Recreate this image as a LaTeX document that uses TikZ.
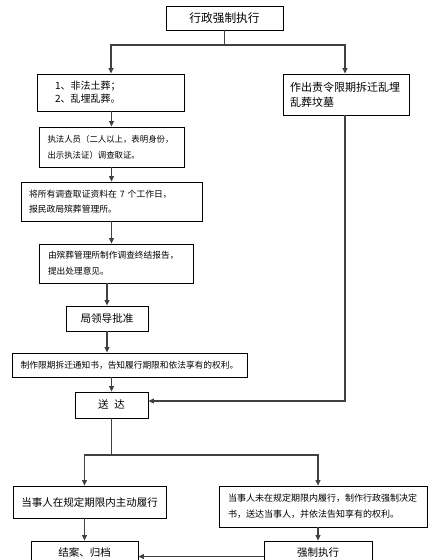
\documentclass[tikz,border=0pt]{standalone}
\usepackage{fontspec}
\setmainfont{Noto Sans CJK SC}
\usetikzlibrary{arrows.meta}
\begin{document}
\begin{tikzpicture}[x=1pt,y=-1pt,>={Triangle[length=5.5pt,width=5pt]},
  box/.style={draw,rectangle,line width=0.8pt,inner ysep=0pt},
  lbox/.style={box,align=left},
  link/.style={draw=black!75,line width=1.2pt}]
 \useasboundingbox (0,0) rectangle (445,560);
 % top
 \node[box,minimum width=117,minimum height=24,font=\fontsize{11.7}{14}\selectfont] (exec) at (224.5,18) {行政强制执行};
 \node[lbox,text width=111,inner xsep=18,minimum height=37,font=\fontsize{10}{13}\selectfont] (cases) at (110.5,92.5) {1、非法土葬；\\2、乱埋乱葬。};
 \node[lbox,text width=112,inner xsep=7,minimum height=41,font=\fontsize{11}{15}\selectfont] (order) at (346,94.5) {作出责令限期拆迁乱埋\\乱葬坟墓};
 % left column
 \node[lbox,text width=128,inner xsep=8.5,minimum height=40,font=\fontsize{8.4}{16}\selectfont] (probe) at (111.5,147) {执法人员（二人以上，表明身份，\\出示执法证）调查取证。};
 \node[lbox,text width=165,inner xsep=8,minimum height=39,font=\fontsize{8.8}{15}\selectfont] (report) at (111.5,201.5) {将所有调查取证资料在 7 个工作日，\\报民政局殡葬管理所。};
 \node[lbox,text width=136,inner xsep=9,minimum height=39,font=\fontsize{8.7}{16}\selectfont] (final) at (116,263.5) {由殡葬管理所制作调查终结报告，\\提出处理意见。};
 \node[box,minimum width=82,minimum height=25,font=\fontsize{10.6}{13}\selectfont] (approve) at (107,318.5) {局领导批准};
 \node[box,minimum width=235,minimum height=24,font=\fontsize{8.7}{11}\selectfont] (notice) at (129.5,365) {制作限期拆迁通知书，告知履行期限和依法享有的权利。};
 \node[box,minimum width=73,minimum height=26,font=\fontsize{10.5}{13}\selectfont] (serve) at (111.5,405) {送\hspace{6pt}达};
 % bottom
 \node[box,minimum width=153,minimum height=32,font=\fontsize{10.5}{13}\selectfont] (comply) at (89.5,502) {当事人在规定期限内主动履行};
 \node[lbox,text width=190,inner xsep=9,minimum height=41,font=\fontsize{9}{16}\selectfont] (decide) at (323,506.5) {当事人未在规定期限内履行，制作行政强制决定\\书，送达当事人，并依法告知享有的权利。};
 \node[box,minimum width=107,minimum height=23,font=\fontsize{10.5}{13}\selectfont] (close) at (84.5,552.5) {结案、归档};
 \node[box,minimum width=108,minimum height=23,font=\fontsize{10.5}{13}\selectfont] (force) at (318,552.5) {强制执行};
 \coordinate (fork1) at (224.5,45);
 \coordinate (fork2) at (111.5,455);
 % connectors
 \draw[link] (exec) -- (fork1);
 \draw[link,->] (fork1) -| (cases.north -| 111,0);
 \draw[link,->] (fork1) -| (order.north -| 345,0);
 \draw[link,->] (cases.south -| probe) -- (probe.north);
 \draw[link,->] (probe) -- (report);
 \draw[link,->] (report.south) -- (report.south |- final.north);
 \draw[link,->] (final.south -| approve) -- (approve.north);
 \draw[link,->] (approve.south) -- (approve.south |- notice.north);
 \draw[link,->] (notice.south -| serve) -- (serve.north);
 \draw[link,->] (order.south -| 345,0) |- ([yshift=4pt]serve.east);
 \draw[link] (serve) -- (fork2);
 \draw[link,->] (fork2) -| (close |- comply.north);
 \draw[link,->] (fork2) -| (force |- decide.north);
 \draw[link,->] (comply.south -| close) -- (close.north);
 \draw[link,->] (decide.south -| force) -- (force.north);
 \draw[link,->] ([yshift=-4pt]force.west) -- ([yshift=-4pt]close.east);
\end{tikzpicture}
\end{document}
